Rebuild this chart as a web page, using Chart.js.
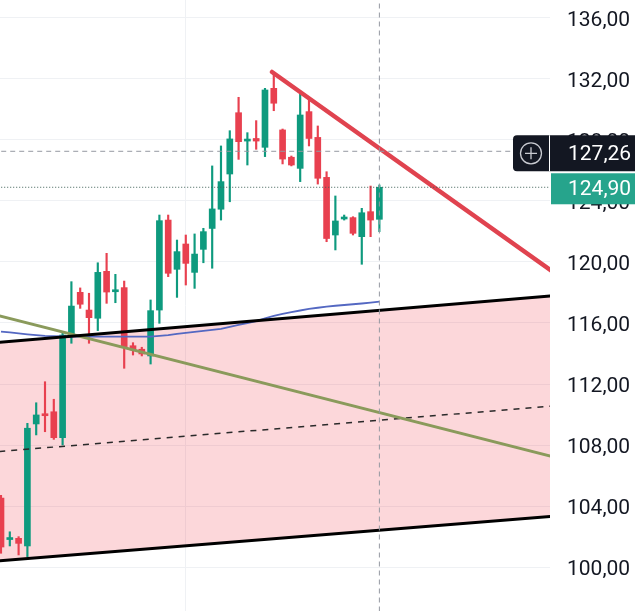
<!DOCTYPE html>
<html>
<head>
<meta charset="utf-8">
<script src="https://cdn.jsdelivr.net/npm/chart.js"></script>
<style>
  body { margin: 0; background: #fff; }
  #wrap { width: 635px; height: 611px; }
</style>
</head>
<body>
<div id="wrap"><canvas id="chart"></canvas></div>
<script>
// candles, oldest first
const openPrices  = [104.52, 101.80, 101.88, 101.38, 109.38, 109.97, 110.18, 108.48, 115.15, 118.01, 116.85, 116.31, 119.39, 118.05, 118.32, 114.51, 114.28, 113.84, 116.85, 122.75, 119.52, 121.18, 119.32, 120.83, 122.20, 123.46, 125.77, 129.79, 127.93, 128.10, 127.52, 131.39, 128.66, 126.87, 126.14, 129.86, 128.17, 125.55, 121.77, 122.82, 122.91, 121.66, 123.30, 122.80];
const highPrices  = [104.70, 102.31, 101.99, 109.42, 110.77, 112.15, 111.00, 115.34, 118.71, 118.30, 117.95, 119.95, 120.57, 119.19, 118.75, 114.71, 114.41, 117.51, 123.08, 123.08, 121.44, 121.77, 121.84, 122.21, 126.30, 127.61, 128.61, 130.80, 128.48, 129.27, 131.39, 132.30, 128.72, 126.95, 131.17, 130.66, 128.92, 125.92, 124.33, 123.08, 122.97, 123.52, 124.98, 125.05];
const lowPrices   = [100.90, 101.38, 100.79, 100.68, 108.66, 108.87, 108.37, 108.00, 114.67, 116.96, 114.67, 115.50, 117.29, 117.33, 113.03, 113.90, 113.84, 113.31, 115.98, 119.04, 117.68, 118.49, 118.27, 119.95, 119.59, 122.75, 123.95, 126.73, 126.36, 127.39, 126.91, 129.92, 126.43, 126.30, 125.27, 127.61, 125.11, 121.33, 120.79, 122.75, 121.77, 119.85, 121.66, 121.99];
const closePrices = [101.31, 101.85, 101.55, 109.10, 109.97, 109.92, 108.48, 115.21, 117.11, 117.23, 116.35, 119.32, 118.03, 118.10, 114.45, 114.23, 113.97, 116.81, 122.71, 119.26, 120.68, 119.91, 120.52, 121.99, 123.48, 125.27, 128.07, 127.89, 127.97, 127.93, 131.28, 130.41, 126.75, 126.36, 129.64, 128.10, 125.49, 121.54, 122.69, 122.92, 121.88, 123.23, 122.75, 124.90];

// moving average, one value per candle
const maValues = [115.44, 115.38, 115.32, 115.26, 115.20, 115.15, 115.13, 115.12, 115.11, 115.11, 115.11, 115.10, 115.10, 115.10, 115.10, 115.10, 115.10, 115.11, 115.15, 115.20, 115.28, 115.35, 115.42, 115.48, 115.55, 115.61, 115.74, 115.87, 116.00, 116.13, 116.30, 116.46, 116.60, 116.72, 116.82, 116.92, 117.00, 117.08, 117.13, 117.18, 117.23, 117.28, 117.34, 117.40];

// drawings: [bar index, price] end points
const channelTop    = [[-0.2, 114.74], [62.5, 117.78]];
const channelBottom = [[-0.2, 100.40], [62.5, 103.31]];
const channelMid    = [[-0.2, 107.57], [62.5, 110.55]];
const greenTrend    = [[-0.2, 116.47], [62.5, 107.26]];
const redTrend      = [[30.8, 132.46], [62.5, 119.44]];

const tickValues = [100, 104, 108, 112, 116, 120, 124, 128, 132, 136];
const timeGridBars = [21];
const crosshairPrice = 127.26;
const crosshairBar = 43;
const lastPrice = closePrices[closePrices.length - 1];

const UP = '#0e9a7e';
const DOWN = '#e8404f';

const pts = arr => arr.map(p => ({ x: p[0], y: p[1] }));
const candleColors = openPrices.map((o, i) => closePrices[i] >= o ? UP : DOWN);

const lineSet = (data, color, width, extra) => Object.assign({
  type: 'line', data, borderColor: color, borderWidth: width,
  pointRadius: 0, fill: false, tension: 0
}, extra);

const priceTags = {
  id: 'priceTags',
  afterDraw(chart) {
    const ctx = chart.ctx;
    const y = chart.scales.y;
    ctx.save();
    ctx.font = '21px Roboto';
    ctx.textBaseline = 'middle';

    // crosshair label with the plus button
    let c = y.getPixelForValue(crosshairPrice) + 2;
    ctx.fillStyle = '#131722';
    ctx.beginPath();
    ctx.roundRect(513, c - 18, 122, 36, [4, 0, 0, 4]);
    ctx.fill();
    ctx.strokeStyle = '#ffffff';
    ctx.lineWidth = 1;
    ctx.beginPath();
    ctx.moveTo(549.5, c - 18);
    ctx.lineTo(549.5, c + 18);
    ctx.stroke();
    ctx.strokeStyle = '#c9cbd1';
    ctx.lineWidth = 1.3;
    ctx.beginPath();
    ctx.arc(531, c, 10.5, 0, Math.PI * 2);
    ctx.moveTo(525, c); ctx.lineTo(537, c);
    ctx.moveTo(531, c - 6); ctx.lineTo(531, c + 6);
    ctx.stroke();
    ctx.fillStyle = '#ffffff';
    ctx.fillText(crosshairPrice.toFixed(2).replace('.', ','), 568, c + 1);

    // last price label
    c = y.getPixelForValue(lastPrice) + 1.5;
    ctx.fillStyle = '#26a48c';
    ctx.fillRect(551, c - 15.5, 84, 31);
    ctx.fillStyle = '#ffffff';
    ctx.fillText(lastPrice.toFixed(2).replace('.', ','), 568, c + 1);
    ctx.restore();
  }
};

const gridColor = '#eff1f4';

new Chart(document.getElementById('chart'), {
  type: 'bar',
  data: {
    datasets: [
      lineSet(pts(channelTop), 'rgba(0,0,0,0)', 0, { order: 10 }),
      lineSet(pts(channelBottom), 'rgba(0,0,0,0)', 0, { order: 10, fill: '-1', backgroundColor: 'rgba(242,54,69,0.2)' }),
      {
        data: lowPrices.map((l, i) => ({ x: i, y: [l, highPrices[i]] })),
        backgroundColor: candleColors, barThickness: 1.5, grouped: false, order: 6
      },
      {
        data: openPrices.map((o, i) => ({ x: i, y: [o, closePrices[i]] })),
        backgroundColor: candleColors, barThickness: 6, minBarLength: 2, grouped: false, order: 5
      },
      lineSet(maValues.map((v, i) => ({ x: i, y: v })), '#5468c2', 1.8, { order: 4 }),
      lineSet(pts(channelMid), '#2a2a2a', 1.5, { order: 3, borderDash: [6, 6] }),
      lineSet(pts(channelTop), '#000000', 3, { order: 2 }),
      lineSet(pts(channelBottom), '#000000', 3, { order: 2 }),
      lineSet(pts(greenTrend), '#8a9a5b', 3, { order: 2 }),
      lineSet(pts(redTrend), '#e0434f', 4.5, { order: 1, borderCapStyle: 'round' }),
      lineSet([{ x: crosshairBar, y: 90 }, { x: crosshairBar, y: 140 }], '#9598a1', 1, { order: 0, borderDash: [5, 4] }),
      lineSet([{ x: -1, y: crosshairPrice }, { x: 63, y: crosshairPrice }], '#9598a1', 1, { order: 0, borderDash: [5, 4] }),
      lineSet([{ x: -1, y: lastPrice }, { x: 63, y: lastPrice }], '#3d5f55', 1, { order: 0, borderDash: [1, 2] })
    ]
  },
  options: {
    responsive: true,
    maintainAspectRatio: false,
    animation: false,
    layout: { padding: 0 },
    plugins: { legend: { display: false }, tooltip: { enabled: false } },
    scales: {
      x: {
        type: 'linear',
        min: -0.114,
        max: 62.39,
        offset: false,
        ticks: { display: false },
        grid: { color: gridColor, drawTicks: false, offset: false },
        border: { display: false },
        afterBuildTicks: s => { s.ticks = timeGridBars.map(v => ({ value: v })); },
        afterFit: s => { s.height = 0; s.paddingLeft = 0; s.paddingRight = 0; }
      },
      y: {
        position: 'right',
        min: 97.115,
        max: 137.18,
        ticks: {
          color: '#131722',
          font: { family: 'Roboto', size: 21 },
          padding: 17,
          labelOffset: 3,
          callback: v => v.toFixed(2).replace('.', ',')
        },
        grid: { color: gridColor, drawTicks: false },
        border: { display: false },
        afterBuildTicks: s => { s.ticks = tickValues.map(v => ({ value: v })); },
        afterFit: s => { s.width = 85; s.paddingTop = 0; s.paddingBottom = 0; }
      }
    }
  },
  plugins: [priceTags]
});
</script>
</body>
</html>
